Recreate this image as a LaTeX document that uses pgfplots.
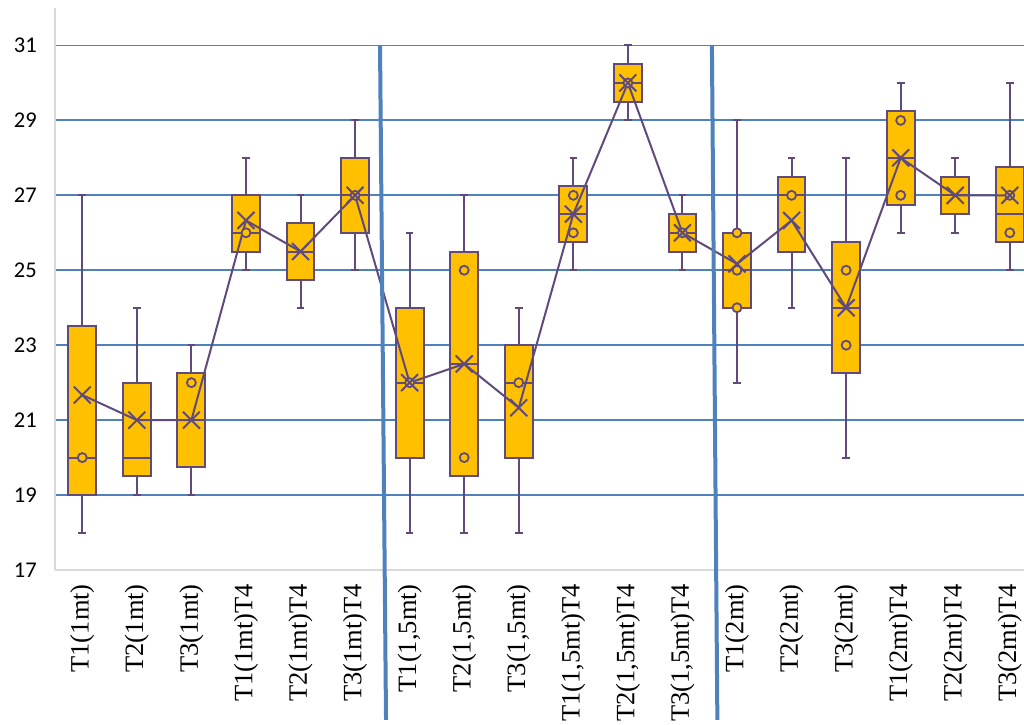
\documentclass[border=0pt]{standalone}
\usepackage{fontspec}
\setmainfont{Liberation Serif}
\newfontfamily\calibri{Carlito}
\usepackage{pgfplots}
\pgfplotsset{compat=1.18}
\usepgfplotslibrary{statistics}
\definecolor{gold}{HTML}{FFC000}
\definecolor{boxpurple}{HTML}{604A7B}
\definecolor{gridblue}{HTML}{4F81BD}
\definecolor{axgray}{HTML}{D9D9D9}
\pgfplotsset{mybox/.style={draw=boxpurple, line width=2pt, fill=gold, solid, mark=none}}
\begin{document}
\begin{tikzpicture}
\begin{axis}[name=ax, scale only axis, width=969pt, height=562pt,
  xmin=-0.5, xmax=17.26, ymin=17, ymax=32,
  axis x line*=bottom, axis y line*=left,
  axis line style={axgray, line width=1.5pt, -},
  ytick={19,21,...,31}, extra y ticks={17}, extra y tick style={grid=none},
  ymajorgrids, grid style={gridblue, line width=1.8pt},
  major tick length=0pt,
  xtick={0,...,17},
  xticklabels={T1(1mt),T2(1mt),T3(1mt),T1(1mt)T4,T2(1mt)T4,T3(1mt)T4,
    {T1(1,5mt)},{T2(1,5mt)},{T3(1,5mt)},{T1(1,5mt)T4},{T2(1,5mt)T4},{T3(1,5mt)T4},
    T1(2mt),T2(2mt),T3(2mt),T1(2mt)T4,T2(2mt)T4,T3(2mt)T4},
  xticklabel style={rotate=90, anchor=east, inner sep=0pt, font=\fontsize{26.5}{27}\selectfont},
  xticklabel shift=14pt,
  yticklabel style={anchor=east, inner sep=0pt, font=\calibri\fontsize{22.5}{23}\selectfont},
  yticklabel shift=18pt,
  /pgf/number format/assume math mode=true,
  clip=false,
  boxplot/draw direction=y,
  boxplot/box extend=0.51, boxplot/whisker extend=0.14,
]
\addplot+[mybox, boxplot prepared={draw position=0, lower whisker=18, lower quartile=19, median=20, upper quartile=23.5, upper whisker=27}] coordinates {};
\addplot+[mybox, boxplot prepared={draw position=1, lower whisker=19, lower quartile=19.5, median=20, upper quartile=22, upper whisker=24}] coordinates {};
\addplot+[mybox, boxplot prepared={draw position=2, lower whisker=19, lower quartile=19.75, median=21, upper quartile=22.25, upper whisker=23}] coordinates {};
\addplot+[mybox, boxplot prepared={draw position=3, lower whisker=25, lower quartile=25.5, median=26, upper quartile=27, upper whisker=28}] coordinates {};
\addplot+[mybox, boxplot prepared={draw position=4, lower whisker=24, lower quartile=24.75, median=25.5, upper quartile=26.25, upper whisker=27}] coordinates {};
\addplot+[mybox, boxplot prepared={draw position=5, lower whisker=25, lower quartile=26, median=27, upper quartile=28, upper whisker=29}] coordinates {};
\addplot+[mybox, boxplot prepared={draw position=6, lower whisker=18, lower quartile=20, median=22, upper quartile=24, upper whisker=26}] coordinates {};
\addplot+[mybox, boxplot prepared={draw position=7, lower whisker=18, lower quartile=19.5, median=22.5, upper quartile=25.5, upper whisker=27}] coordinates {};
\addplot+[mybox, boxplot prepared={draw position=8, lower whisker=18, lower quartile=20, median=22, upper quartile=23, upper whisker=24}] coordinates {};
\addplot+[mybox, boxplot prepared={draw position=9, lower whisker=25, lower quartile=25.75, median=26.5, upper quartile=27.25, upper whisker=28}] coordinates {};
\addplot+[mybox, boxplot prepared={draw position=10, lower whisker=29, lower quartile=29.5, median=30, upper quartile=30.5, upper whisker=31}] coordinates {};
\addplot+[mybox, boxplot prepared={draw position=11, lower whisker=25, lower quartile=25.5, median=26, upper quartile=26.5, upper whisker=27}] coordinates {};
\addplot+[mybox, boxplot prepared={draw position=12, lower whisker=22, lower quartile=24, median=25, upper quartile=26, upper whisker=29}] coordinates {};
\addplot+[mybox, boxplot prepared={draw position=13, lower whisker=24, lower quartile=25.5, median=27, upper quartile=27.5, upper whisker=28}] coordinates {};
\addplot+[mybox, boxplot prepared={draw position=14, lower whisker=20, lower quartile=22.25, median=24, upper quartile=25.75, upper whisker=28}] coordinates {};
\addplot+[mybox, boxplot prepared={draw position=15, lower whisker=26, lower quartile=26.75, median=28, upper quartile=29.25, upper whisker=30}] coordinates {};
\addplot+[mybox, boxplot prepared={draw position=16, lower whisker=26, lower quartile=26.5, median=27, upper quartile=27.5, upper whisker=28}] coordinates {};
\addplot+[mybox, boxplot prepared={draw position=17, lower whisker=25, lower quartile=25.75, median=26.5, upper quartile=27.75, upper whisker=30}] coordinates {};
% inner points
\addplot[only marks, mark=*, mark size=4.5pt, mark options={draw=boxpurple, fill=gold, line width=1.8pt}] coordinates {
(0,20) (2,22) (3,26) (5,27) (6,22) (7,25) (7,20) (8,22) (9,27) (9,26) (10,30) (11,26)
(12,26) (12,25) (12,24) (13,27) (14,25) (14,23) (15,29) (15,27) (17,27) (17,26)};
% mean line
\addplot[boxpurple, line width=2pt, mark=x, mark size=12pt, mark options={line width=2pt}] coordinates {
(0,21.67) (1,21) (2,21) (3,26.33) (4,25.5) (5,27) (6,22) (7,22.5) (8,21.33) (9,26.5) (10,30) (11,26)
(12,25.17) (13,26.33) (14,24) (15,28) (16,27) (17,27)};
% separators
\addplot[gridblue, line width=4pt] coordinates {(5.457,31) (5.567,13.0)};
\addplot[gridblue, line width=4pt] coordinates {(11.54,31) (11.64,13.0)};
\end{axis}
\pgfresetboundingbox
\path[use as bounding box] ([shift={(-55pt,-155pt)}]ax.south west) rectangle ([shift={(0pt,8pt)}]ax.north east);
\end{tikzpicture}
\end{document}
